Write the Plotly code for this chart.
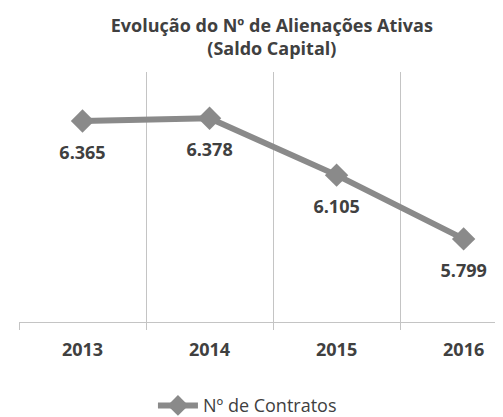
import plotly.graph_objects as go

years = ["2013", "2014", "2015", "2016"]
contratos = [6365, 6378, 6105, 5799]
series_name = "Nº de Contratos"
title_lines = ["Evolução do Nº de Alienações Ativas", "(Saldo Capital)"]

def fmt(v):
    return f"{v:,}".replace(",", ".")

labels = [fmt(v) for v in contratos]

FONT = "Open Sans"
LINE_COLOR = "#8a8a8a"
TEXT_COLOR = "#404040"
GRID = "#c4c4c4"

fig = go.Figure()
fig.add_trace(go.Scatter(
    x=years, y=contratos, name=series_name,
    mode="lines+markers",
    line=dict(color=LINE_COLOR, width=6),
    marker=dict(symbol="diamond", size=18, color=LINE_COLOR),
))
# data labels below the points (invisible marker sets the offset)
fig.add_trace(go.Scatter(
    x=years, y=contratos, text=labels, showlegend=False, hoverinfo="skip",
    mode="markers+text", textposition="bottom center",
    marker=dict(size=37, opacity=0),
    textfont=dict(family=FONT, size=18, color=TEXT_COLOR, weight="bold"),
))

fig.update_layout(
    width=495, height=409,
    margin=dict(l=11, r=0, t=64, b=95, autoexpand=False),
    paper_bgcolor="white", plot_bgcolor="white",
    title=dict(text="<b>" + "<br>".join(title_lines) + "</b>",
               x=0.533, xanchor="center", xref="container",
               y=1 - 24 / 409, yanchor="top", yref="container",
               font=dict(family=FONT, size=18, color=TEXT_COLOR)),
    showlegend=True,
    legend=dict(orientation="h", x=0.472, xanchor="center", y=-0.335, yanchor="middle",
                itemwidth=40,
                font=dict(family=FONT, size=18, color=TEXT_COLOR)),
    xaxis=dict(type="category", range=[-0.5, 3.31], tickson="boundaries",
               showgrid=True, gridcolor=GRID, gridwidth=1,
               ticks="outside", ticklen=7, tickcolor=GRID,
               showline=True, linecolor=GRID, linewidth=1,
               ticklabelstandoff=11,
               automargin=False,
               tickfont=dict(family=FONT, size=18, color=TEXT_COLOR, weight="bold"),
               fixedrange=True),
    yaxis=dict(range=[5400, 6600], showgrid=False, showticklabels=False,
               zeroline=False, showline=False, ticks="", automargin=False),
)

fig.write_html("out.html")
